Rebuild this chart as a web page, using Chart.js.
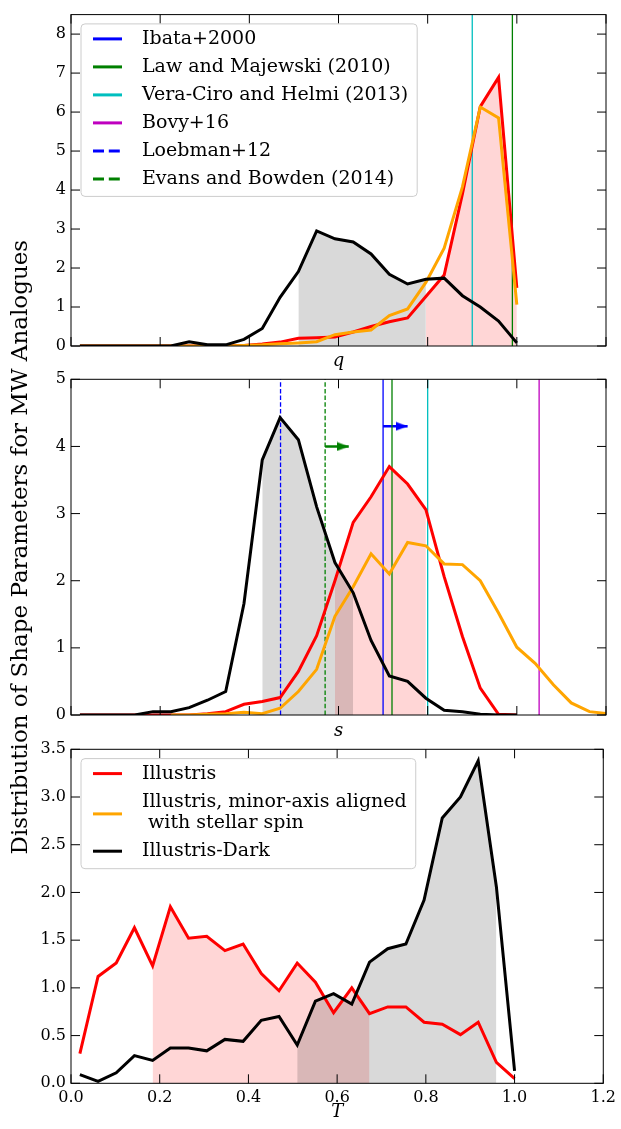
<!DOCTYPE html>
<html>
<head>
<meta charset="utf-8">
<script src="https://cdn.jsdelivr.net/npm/chart.js@4/dist/chart.umd.min.js"></script>
<style>
  html, body { margin: 0; padding: 0; background: #fff; }
  #wrap { position: relative; width: 621px; height: 1129px; }
  canvas { position: absolute; left: 0; top: 0; }
</style>
</head>
<body>
<div id="wrap">
  <canvas id="qChart" width="621" height="1129"></canvas>
  <canvas id="sChart" width="621" height="1129"></canvas>
  <canvas id="tChart" width="621" height="1129"></canvas>
</div>
<script>
'use strict';

// bin centres, same for every panel
let xBins = [0.020, 0.061, 0.102, 0.143, 0.184, 0.224, 0.265, 0.306, 0.347, 0.388, 0.429, 0.469, 0.510,
             0.551, 0.592, 0.633, 0.673, 0.714, 0.755, 0.796, 0.837, 0.878, 0.918, 0.959, 1.000];
// the aligned s curve keeps going past 1
let xBinsLong = xBins.concat([1.041, 1.082, 1.122, 1.163, 1.204]);

// q panel
let qRed    = [0, 0, 0, 0, 0, 0, 0, 0, 0, 0.01, 0.05, 0.10, 0.20, 0.21, 0.23, 0.36, 0.50, 0.62, 0.72, 1.27, 1.82, 3.90, 6.14, 6.89, 1.49];
let qOrange = [0, 0, 0, 0, 0, 0, 0, 0, 0, 0.01, 0.03, 0.06, 0.08, 0.11, 0.29, 0.36, 0.41, 0.78, 0.95, 1.63, 2.51, 4.08, 6.13, 5.85, 1.06];
let qBlack  = [0, 0, 0, 0, 0, 0, 0.11, 0.03, 0.03, 0.17, 0.45, 1.25, 1.91, 2.95, 2.75, 2.67, 2.36, 1.84, 1.59, 1.71, 1.74, 1.29, 1.00, 0.64, 0.08];

// s panel
let sRed    = [0, 0, 0, 0, 0, 0, 0, 0.02, 0.05, 0.16, 0.20, 0.26, 0.65, 1.18, 2.00, 2.87, 3.25, 3.70, 3.44, 3.06, 2.06, 1.17, 0.40, 0.01, 0];
let sOrange = [null, null, null, null, null, 0, 0, 0.01, 0.02, 0.04, 0.02, 0.10, 0.35, 0.68, 1.47, 1.91, 2.40, 2.10, 2.57, 2.52,
               2.25, 2.24, 2.00, 1.52, 1.01, 0.77, 0.45, 0.18, 0.05, 0.02];
let sBlack  = [0, 0, 0, 0, 0.05, 0.05, 0.11, 0.22, 0.35, 1.66, 3.80, 4.43, 4.10, 3.10, 2.27, 1.82, 1.11, 0.58, 0.50, 0.25, 0.07, 0.05, 0.01, 0, 0];

// T panel
let tRed   = [0.31, 1.12, 1.26, 1.63, 1.23, 1.85, 1.52, 1.54, 1.39, 1.46, 1.15, 0.97, 1.26, 1.06, 0.74, 1.00, 0.73, 0.80, 0.80, 0.64, 0.62, 0.51, 0.64, 0.22, 0.05];
let tBlack = [0.09, 0.02, 0.11, 0.29, 0.24, 0.37, 0.37, 0.34, 0.46, 0.44, 0.66, 0.70, 0.40, 0.86, 0.94, 0.83, 1.27, 1.41, 1.46, 1.92, 2.78, 3.00, 3.38, 2.06, 0.13];

// shaded bands, first and last bin index
let qRedBand = [19, 24], qBlackBand = [12, 19];
let sRedBand = [14, 19], sBlackBand = [10, 15];
let tRedBand = [4, 16],  tBlackBand = [12, 23];

// observational estimates
let refNames  = ['Ibata+2000', 'Law and Majewski (2010)', 'Vera-Ciro and Helmi (2013)', 'Bovy+16', 'Loebman+12', 'Evans and Bowden (2014)'];
let refColors = ['#0000ff', '#008000', '#00bfbf', '#bf00bf', '#0000ff', '#008000'];
let refDashed = [false, false, false, false, true, true];
let qRefs = [null, 0.99, 0.90, null, null, null];
let sRefs = [0.70, 0.72, 0.80, 1.05, 0.47, 0.57];
// lower limits drawn as arrows (index into refs)
let arrowRef  = [0, 5];
let arrowTip  = [0.755, 0.623];
let arrowY    = [4.3, 4.0];

let simNames  = [['Illustris'], ['Illustris, minor-axis aligned', ' with stellar spin'], ['Illustris-Dark']];
let simColors = ['#ff0000', '#ffa500', '#000000'];

const FONT = "'DejaVu Serif'";

function pts(xs, ys, from, to) {
  let out = [];
  for (let i = from; i <= to; i++) out.push({x: xs[i], y: ys[i]});
  return out;
}

function curve(xs, ys, color, order) {
  return {data: pts(xs, ys, 0, ys.length - 1), borderColor: color, borderWidth: 3, pointRadius: 0,
          fill: false, tension: 0, order: order};
}

function band(xs, ys, range, color, order) {
  return {data: pts(xs, ys, range[0], range[1]), borderWidth: 0, pointRadius: 0,
          backgroundColor: color, fill: 'origin', tension: 0, order: order};
}

function vline(x, yMax, color, dashed) {
  return {data: [{x: x, y: 0}, {x: x, y: yMax}], borderColor: color, borderWidth: 1.3,
          borderDash: dashed ? [4.5, 2.2] : [], pointRadius: 0, fill: false, order: 4};
}

function arrowHead(color) {
  let c = document.createElement('canvas');
  c.width = 24; c.height = 10;
  let g = c.getContext('2d');
  g.fillStyle = color;
  g.beginPath();
  g.moveTo(0, 0.6); g.lineTo(12, 5); g.lineTo(0, 9.4);
  g.closePath(); g.fill();
  return c;
}

function arrow(x0, x1, y, color) {
  return {data: [{x: x0, y: y}, {x: x1 - 0.012, y: y}, {x: x1, y: y}], borderColor: color, borderWidth: 2.5,
          pointRadius: [0, 0, 6], pointStyle: [false, false, arrowHead(color)], fill: false, order: 4};
}

// frame, inward ticks and legend box
const decor = {
  id: 'decor',
  afterDatasetsDraw(chart, args, opts) {
    const ctx = chart.ctx, a = chart.chartArea;
    const xs = chart.scales.x, ys = chart.scales.y;
    ctx.save();
    ctx.strokeStyle = '#000';
    ctx.lineWidth = 1;
    ctx.strokeRect(a.left, a.top, a.right - a.left, a.bottom - a.top);
    ctx.beginPath();
    xs.ticks.forEach(t => {
      const p = xs.getPixelForValue(t.value);
      ctx.moveTo(p, a.bottom); ctx.lineTo(p, a.bottom - 9);
      ctx.moveTo(p, a.top); ctx.lineTo(p, a.top + 9);
    });
    ys.ticks.forEach(t => {
      const p = ys.getPixelForValue(t.value);
      ctx.moveTo(a.left, p); ctx.lineTo(a.left + 9, p);
      ctx.moveTo(a.right, p); ctx.lineTo(a.right - 9, p);
    });
    ctx.stroke();

    if (opts.entries) {
      ctx.font = '19px ' + FONT;
      let widest = 0;
      opts.entries.forEach(e => e.lines.forEach(t => { widest = Math.max(widest, ctx.measureText(t).width); }));
      const left = a.left + 10, top = a.top + 9.3;
      let y = top + 15, rows = [];
      opts.entries.forEach(e => {
        const lys = e.lines.map((_, k) => y + k * 21.6);
        rows.push({e: e, ys: lys});
        y = lys[lys.length - 1] + 28;
      });
      const lastRow = rows[rows.length - 1];
      const h = lastRow.ys[lastRow.ys.length - 1] + 17.5 - top;
      const w = 61 + widest + 9;
      ctx.beginPath();
      ctx.roundRect(left, top, w, h, 4);
      ctx.fillStyle = 'rgba(255,255,255,0.8)';
      ctx.fill();
      ctx.strokeStyle = '#cccccc';
      ctx.stroke();
      rows.forEach(r => {
        const mid = (r.ys[0] + r.ys[r.ys.length - 1]) / 2 + (r.ys.length > 1 ? 1.5 : 0);
        ctx.beginPath();
        ctx.strokeStyle = r.e.color;
        ctx.lineWidth = 3;
        ctx.setLineDash(r.e.dashed ? [11, 4.8] : []);
        ctx.moveTo(left + 12, mid); ctx.lineTo(left + 41, mid);
        ctx.stroke();
        ctx.setLineDash([]);
        ctx.fillStyle = '#000';
        ctx.textBaseline = 'middle';
        ctx.textAlign = 'left';
        r.e.lines.forEach((t, k) => ctx.fillText(t, left + 61, r.ys[k]));
      });
    }
    ctx.restore();
  }
};

function makePanel(id, p) {
  const H = 1129;
  const titleLH = 18 * 1.2;
  const axisBottom = p.titleCenter + titleLH / 2;
  new Chart(document.getElementById(id), {
    type: 'line',
    data: {datasets: p.datasets},
    plugins: [decor],
    options: {
      responsive: false,
      animation: false,
      events: [],
      devicePixelRatio: 1,
      layout: {padding: {left: 0, right: 15, top: p.top, bottom: H - axisBottom}},
      plugins: {legend: {display: false}, tooltip: {enabled: false}, decor: p.legend || {}},
      scales: {
        x: {
          type: 'linear', min: 0, max: 1.2,
          grid: {display: false, drawTicks: false},
          border: {display: false},
          ticks: {stepSize: 0.2, display: p.xLabels, padding: 5, color: '#000',
                  font: {family: FONT, size: 16}, callback: v => v.toFixed(1), maxRotation: 0},
          title: {display: true, text: p.xTitle, color: '#000', padding: 0,
                  font: {family: FONT, size: 18, style: 'italic'}},
          afterFit: s => { s.height = axisBottom - p.bottom; }
        },
        y: {
          type: 'linear', min: 0, max: p.yMax,
          grid: {display: false, drawTicks: false},
          border: {display: false},
          ticks: {stepSize: p.yStep, includeBounds: false, padding: 5, color: '#000',
                  font: {family: FONT, size: 16}, callback: v => v.toFixed(p.yDec)},
          title: p.yTitle ? {display: true, text: p.yTitle, color: '#000', padding: {top: 7, bottom: 0},
                  font: {family: FONT, size: 23}} : {display: false},
          afterFit: s => { s.width = 71; }
        }
      }
    }
  });
}

const pink = 'rgba(255,0,0,0.16)', grey = 'rgba(0,0,0,0.15)';

// panel 1: q
let qSets = [
  curve(xBins, qBlack, '#000000', 1),
  curve(xBins, qOrange, '#ffa500', 2),
  curve(xBins, qRed, '#ff0000', 3),
  band(xBins, qBlack, qBlackBand, grey, 5),
  band(xBins, qRed, qRedBand, pink, 6)
];
qRefs.forEach((v, i) => { if (v !== null) qSets.push(vline(v, 8.5, refColors[i], refDashed[i])); });

makePanel('qChart', {
  top: 10.7, bottom: 346, yMax: 8.5, yStep: 1, yDec: 0, xTitle: 'q', titleCenter: 361, xLabels: false,
  datasets: qSets,
  legend: {entries: refNames.map((n, i) => ({lines: [n], color: refColors[i], dashed: refDashed[i]}))}
});

// panel 2: s
let sSets = [
  curve(xBins, sBlack, '#000000', 1),
  curve(xBinsLong, sOrange, '#ffa500', 2),
  curve(xBins, sRed, '#ff0000', 3),
  band(xBins, sBlack, sBlackBand, grey, 5),
  band(xBins, sRed, sRedBand, pink, 6)
];
sRefs.forEach((v, i) => sSets.push(vline(v, 5, refColors[i], refDashed[i])));
arrowRef.forEach((r, k) => sSets.push(arrow(sRefs[r], arrowTip[k], arrowY[k], refColors[r])));

makePanel('sChart', {
  top: 379.3, bottom: 715, yMax: 5, yStep: 1, yDec: 0, xTitle: 's', titleCenter: 731, xLabels: false,
  yTitle: 'Distribution of Shape Parameters for MW Analogues',
  datasets: sSets
});

// panel 3: T
let tSets = [
  curve(xBins, tBlack, '#000000', 1),
  curve(xBins, tRed, '#ff0000', 3),
  band(xBins, tBlack, tBlackBand, grey, 5),
  band(xBins, tRed, tRedBand, pink, 6)
];

makePanel('tChart', {
  top: 749.3, bottom: 1083.3, yMax: 3.5, yStep: 0.5, yDec: 1, xTitle: 'T', titleCenter: 1112, xLabels: true,
  datasets: tSets,
  legend: {entries: simNames.map((n, i) => ({lines: n, color: simColors[i], dashed: false}))}
});
</script>
</body>
</html>
